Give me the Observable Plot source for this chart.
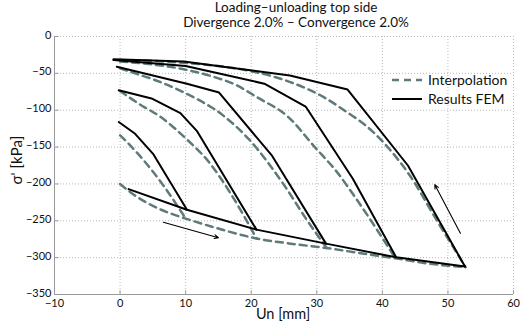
<!DOCTYPE html>
<html>
<head>
<meta charset="utf-8">
<script src="https://cdn.jsdelivr.net/npm/d3@7"></script>
<script src="https://cdn.jsdelivr.net/npm/@observablehq/plot@0.6"></script>
<style>
  body { margin: 0; background: white; }
  #wrap { position: relative; width: 529px; height: 327px; font-family: Lato, "Open Sans", sans-serif; }
  .title { position: absolute; left: 296px; transform: translateX(-50%); white-space: nowrap; font-size: 13.5px; line-height: 13px; color: #111; }
  #overlay { position: absolute; left: 0; top: 0; pointer-events: none; }
</style>
</head>
<body>
<div id="wrap">
  <div id="chart"></div>
  <div class="title" style="top:1px">Loading–unloading top side</div>
  <div class="title" style="top:15.5px">Divergence 2.0% – Convergence 2.0%</div>
  <svg id="overlay" width="529" height="327" font-family="Lato, 'Open Sans', sans-serif">
    <line x1="392" x2="422" y1="80" y2="80" stroke="#5f7a7a" stroke-width="2.5" stroke-dasharray="7,5"></line>
    <text x="428" y="84.5" font-size="14" fill="#111">Interpolation</text>
    <line x1="392" x2="422" y1="99" y2="99" stroke="#000" stroke-width="2"></line>
    <text x="428" y="104" font-size="14" fill="#111">Results FEM</text>
    <text x="283" y="318.5" font-size="14.5" text-anchor="middle" fill="#111">Un [mm]</text>
    <text transform="translate(21.5,160) rotate(-90)" font-size="15" text-anchor="middle" fill="#111">σ' [kPa]</text>
  </svg>
</div>
<script>
// ---- tick values ----
const xTicks = [-10, 0, 10, 20, 30, 40, 50, 60];
const yTicks = [0, -50, -100, -150, -200, -250, -300, -350];

// ---- Results FEM (Un [mm], σ' [kPa]) ----
const femLoading = [[1.3,-207],[10.2,-235],[20.8,-262],[31.4,-281],[42.1,-299.5],[52.6,-312]];
const femUnload1 = [[-0.2,-116],[2.3,-132],[5.1,-160],[10.2,-235]];
const femUnload2 = [[-0.2,-73],[4.8,-84],[9.2,-104],[11.7,-128],[20.8,-262]];
const femUnload3 = [[-0.5,-41],[10.2,-64],[15.1,-76],[23.2,-162],[31.4,-281]];
const femUnload4 = [[-1,-32],[10,-40],[17.5,-55],[22,-64],[28.3,-95],[35.5,-193],[42.1,-299.5]];
const femUnload5 = [[-1,-31],[9.7,-34],[17.5,-43],[25.9,-53],[34.7,-72],[43.9,-175],[52.6,-312]];

// ---- Interpolation ----
const intLoading = [[0,-200],[2,-214],[4,-225],[6,-234],[8,-241],[10,-247],[14,-258],[18,-268],[20.8,-274],[26,-281],[31.5,-287],[36,-293],[42,-301],[47,-308],[52.7,-313]];
const intUnload1 = [[0,-134],[0.8,-141],[3.6,-168],[6.6,-202],[10,-247]];
const intUnload2 = [[0,-74],[3,-92],[6,-108],[10,-138],[13.7,-172],[17,-215],[20.8,-274]];
const intUnload3 = [[0,-43],[2.3,-50],[5,-58],[10,-77],[15.7,-107],[19.6,-139],[25.2,-204],[28.2,-245],[31.5,-287]];
const intUnload4 = [[0,-34],[5,-38],[10,-45],[14,-54],[17.5,-65],[21,-83],[25.5,-108],[29.7,-150],[33,-183],[36,-220],[42,-301]];
const intUnload5 = [[0,-32],[5,-33],[10,-36],[15,-40],[20,-47],[24,-56],[28,-69],[31,-82],[34,-99],[38.4,-128],[41,-152],[44.3,-190],[48,-245],[52.7,-313]];

// ---- arrows (direction annotations) ----
const arrowFrom = [[6.6,-252],[51.9,-267]];
const arrowTo   = [[15,-273],[48,-201]];

function table(curves) {
  const out = [];
  curves.forEach((c, i) => c.forEach(([x, y]) => out.push({x, y, curve: i})));
  return out;
}
const fem = table([femLoading, femUnload1, femUnload2, femUnload3, femUnload4, femUnload5]);
const interp = table([intLoading, intUnload1, intUnload2, intUnload3, intUnload4, intUnload5]);
const arrows = arrowFrom.map((f, i) => ({x1: f[0], y1: f[1], x2: arrowTo[i][0], y2: arrowTo[i][1]}));

const chart = Plot.plot({
  width: 529,
  height: 327,
  marginLeft: 54,
  marginRight: 16,
  marginTop: 36,
  marginBottom: 33,
  x: {domain: [-10, 60]},
  y: {domain: [-350, 0]},
  style: {fontFamily: "Lato, 'Open Sans', sans-serif", fontSize: "11px", color: "#111", background: "white"},
  marks: [
    Plot.gridX(xTicks, {stroke: "#b8b8b8", strokeOpacity: 1, strokeDasharray: "1,2"}),
    Plot.gridY(yTicks, {stroke: "#b8b8b8", strokeOpacity: 1, strokeDasharray: "1,2"}),
    Plot.ruleX([-10], {stroke: "#9a9a9a"}),
    Plot.ruleY([-350], {stroke: "#9a9a9a"}),
    Plot.ruleY(yTicks, {x1: -10, x2: -9.3, stroke: "#9a9a9a"}),
    Plot.ruleX(xTicks, {y1: -350, y2: -345, stroke: "#9a9a9a"}),
    Plot.axisX(xTicks, {tickSize: 0, tickPadding: 5, label: null}),
    Plot.axisY(yTicks, {tickSize: 0, tickPadding: 3, dy: -1.5, label: null}),
    Plot.line(interp, {x: "x", y: "y", z: "curve", stroke: "#5f7a7a", strokeWidth: 2.5, strokeDasharray: "7,5", curve: "monotone-x"}),
    Plot.line(fem, {x: "x", y: "y", z: "curve", stroke: "#000", strokeWidth: 2}),
    Plot.arrow(arrows, {x1: "x1", y1: "y1", x2: "x2", y2: "y2", stroke: "#000", strokeWidth: 1.1, headLength: 6, headAngle: 50})
  ]
});
document.getElementById("chart").appendChild(chart);
</script>
</body>
</html>
